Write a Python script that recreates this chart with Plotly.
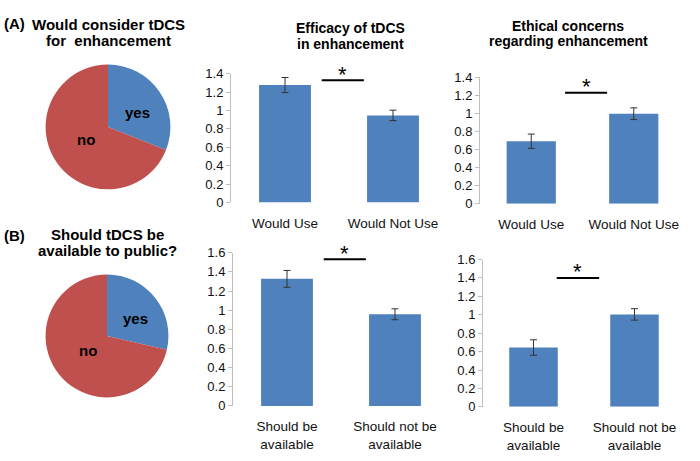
import plotly.graph_objects as go

W, H = 700, 461

# ---- data ----
pie_labels = ["yes", "no"]
pieA_values = [31, 69]
pieB_values = [28.6, 71.4]

A1_cats = ["Would Use", "Would Not Use"]
A1_vals = [1.277, 0.947]
A1_err = [0.082, 0.057]
A1_sig = [0.34, 0.73, 1.33]

A2_cats = ["Would Use", "Would Not Use"]
A2_vals = [0.692, 0.997]
A2_err = [0.079, 0.065]
A2_sig = [0.33, 0.74, 1.228]

B1_cats = ["Should be<br>available", "Should not be<br>available"]
B1_vals = [1.327, 0.957]
B1_err = [0.088, 0.057]
B1_sig = [0.34, 0.73, 1.533]

B2_cats = ["Should be<br>available", "Should not be<br>available"]
B2_vals = [0.644, 1.004]
B2_err = [0.084, 0.062]
B2_sig = [0.23, 0.65, 1.40]

BLUE = "#4F81BD"
RED = "#C0504D"
FONT = "Liberation Sans, Arial, sans-serif"


def px_x(a, b):
    return [a / W, b / W]


def px_y(top, bottom):
    return [1 - bottom / H, 1 - top / H]


fig = go.Figure()

# pies
for vals, dom in [
    (pieA_values, (px_x(43.5, 172.5), px_y(59.5, 188.5))),
    (pieB_values, (px_x(43.5, 170.5), px_y(276.5, 403.5))),
]:
    fig.add_trace(go.Pie(
        labels=pie_labels, values=vals, sort=False, direction="clockwise",
        rotation=0, marker=dict(colors=[BLUE, RED], line=dict(width=0)),
        textinfo="none",
        domain=dict(x=dom[0], y=dom[1]), showlegend=False, hoverinfo="skip",
    ))


def label(text, x, y, size, bold=True, xanchor="center"):
    fig.add_annotation(xref="paper", yref="paper", x=x / W, y=1 - y / H, text=text,
                       showarrow=False, xanchor=xanchor, yanchor="middle", align="center",
                       font=dict(family=FONT, size=size, color="black",
                                 weight="bold" if bold else "normal"))


# pie slice labels
label(pie_labels[0], 137, 109, 15)
label(pie_labels[1], 86, 137, 15)
label(pie_labels[0], 135, 322, 15)
label(pie_labels[1], 88, 355, 15)

bars = [
    (A1_cats, A1_vals, A1_err, A1_sig, 1.4, px_x(231, 447), px_y(69, 202)),
    (A2_cats, A2_vals, A2_err, A2_sig, 1.4, px_x(480, 685), px_y(72.7, 203.3)),
    (B1_cats, B1_vals, B1_err, B1_sig, 1.6, px_x(233, 449), px_y(254, 412.3)),
    (B2_cats, B2_vals, B2_err, B2_sig, 1.6, px_x(483, 685), px_y(261, 413.3)),
]

for i, (cats, vals, err, sig, ymax, xd, yd) in enumerate(bars, start=1):
    xa = "x" if i == 1 else f"x{i}"
    ya = "y" if i == 1 else f"y{i}"
    fig.add_trace(go.Bar(
        x=cats, y=vals, xaxis=xa, yaxis=ya, marker=dict(color=BLUE, line=dict(width=0)),
        error_y=dict(type="data", array=err, color="#333333", thickness=1, width=3.5),
        showlegend=False, hoverinfo="skip",
    ))
    fig.update_layout({
        f"xaxis{'' if i == 1 else i}": dict(
            domain=xd, anchor=ya, range=[-0.5, 1.5], showline=False, showgrid=False,
            zeroline=False, ticks="", ticklabelstandoff=11,
            tickfont=dict(family=FONT, size=13.5, color="#111"),
        ),
        f"yaxis{'' if i == 1 else i}": dict(
            domain=yd, anchor=xa, range=[0, ymax], dtick=0.2, showline=True,
            linecolor="#BFBFBF", linewidth=1, ticks="outside", ticklen=4,
            tickcolor="#BFBFBF", showgrid=False, zeroline=False,
            tickfont=dict(family=FONT, size=13, color="#111"),
            tickformat="~g",
        ),
    })
    fig.add_shape(type="line", xref=xa, yref=ya, x0=sig[0], x1=sig[1], y0=sig[2], y1=sig[2],
                  line=dict(color="black", width=2))
    fig.add_annotation(xref=xa, yref=ya, x=(sig[0] + sig[1]) / 2, y=sig[2], text="*",
                       showarrow=False, yanchor="middle", yshift=6,
                       font=dict(family=FONT, size=22, color="black"))


label("(A)", 2, 17, 15, xanchor="left")
label("Would consider tDCS", 108, 18, 15)
label("for  enhancement", 108, 35, 15)
label("Efficacy of tDCS", 350, 22, 14)
label("in enhancement", 350, 38, 14)
label("Ethical concerns", 568, 20, 14)
label("regarding enhancement", 568, 35, 14)
label("(B)", 2, 236, 15, xanchor="left")
label("Should tDCS be", 107, 235, 15)
label("available to public?", 107, 252, 15)

fig.update_layout(
    width=W, height=H, margin=dict(l=0, r=0, t=0, b=0),
    paper_bgcolor="white", plot_bgcolor="white", bargap=0.52,
    font=dict(family=FONT),
)

fig.write_html("out.html", config={"displayModeBar": False},
               post_script="document.body.style.margin='0';")
